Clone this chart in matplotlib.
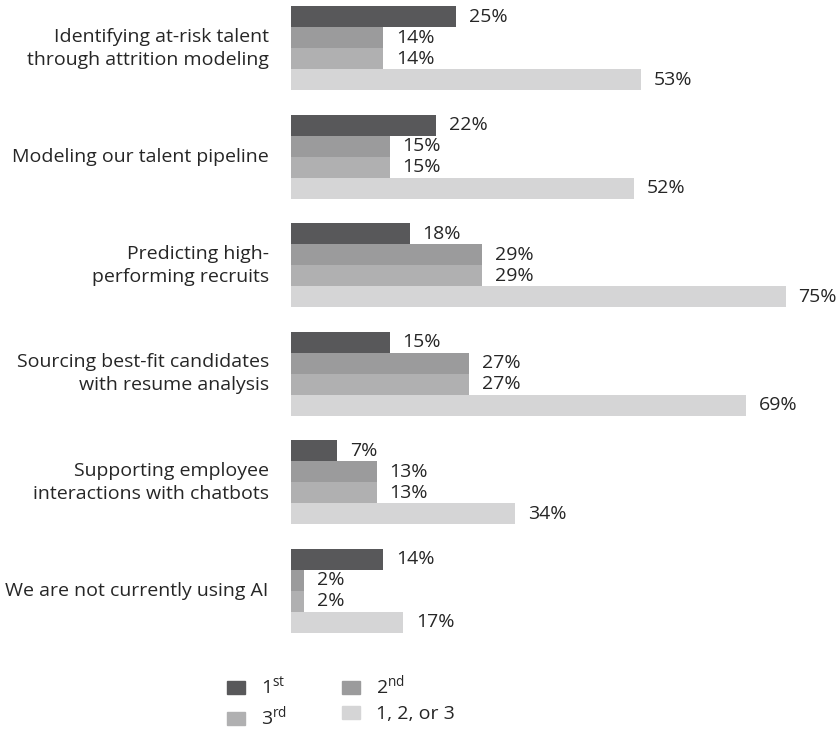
import matplotlib
matplotlib.use('agg')
import matplotlib.pyplot as plt
from matplotlib.patches import Patch

plt.rcParams['font.family'] = ['Open Sans', 'DejaVu Sans']
plt.rcParams['mathtext.fontset'] = 'custom'
plt.rcParams['mathtext.rm'] = 'Open Sans'

categories = [
    'Identifying at-risk talent\nthrough attrition modeling',
    'Modeling our talent pipeline',
    'Predicting high-\nperforming recruits',
    'Sourcing best-fit candidates\nwith resume analysis',
    'Supporting employee\ninteractions with chatbots',
    'We are not currently using AI',
]
first = [25, 22, 18, 15, 7, 14]
second = [14, 15, 29, 27, 13, 2]
third = [14, 15, 29, 27, 13, 2]
any_top3 = [53, 52, 75, 69, 34, 17]

series_names = ['1$^{\\mathrm{st}}$', '2$^{\\mathrm{nd}}$', '3$^{\\mathrm{rd}}$', '1, 2, or 3']
colors = ['#58585a', '#9b9b9c', '#b0b0b1', '#d5d5d6']
text_color = '#262626'
fs = 14

fig = plt.figure(figsize=(8.38, 7.31), dpi=100)
ax = fig.add_axes([291 / 838, 1 - 633 / 731, 520 / 838, 627 / 731])

# four bars per category, stacked top to bottom inside each group
pitch = 5.15
series = [first, second, third, any_top3]
for i, cat in enumerate(categories):
    base = i * pitch
    for j, vals in enumerate(series):
        y = base + j + 0.5
        v = vals[i]
        ax.barh(y, v, height=1.0, color=colors[j], linewidth=0)
        ax.annotate(f'{v}%', (v, y), xytext=(9, 0), textcoords='offset points',
                    va='center', ha='left', fontsize=fs, color=text_color)
    ax.annotate(cat, (0, base + 2.0), xytext=(-16, 0), textcoords='offset points',
                ha='right', va='center', fontsize=fs, color=text_color, linespacing=1.35)

ax.set_xlim(0, 75 * 520 / 495)
ax.set_ylim(5 * pitch + 4, 0)
ax.axis('off')

# legend fills column-wise, so reorder to get 1st/2nd on the top row
handles = [Patch(color=c) for c in colors]
order = [0, 2, 1, 3]
fig.legend([handles[k] for k in order], [series_names[k] for k in order],
           ncol=2, loc='upper left', bbox_to_anchor=(227 / 838, 1 - 674 / 731),
           frameon=False, fontsize=fs, handlelength=0.95, handleheight=0.65,
           handletextpad=0.8, columnspacing=2.8, labelspacing=0.38,
           borderpad=0, borderaxespad=0, labelcolor=text_color)

fig.savefig('out.png', dpi=100)
